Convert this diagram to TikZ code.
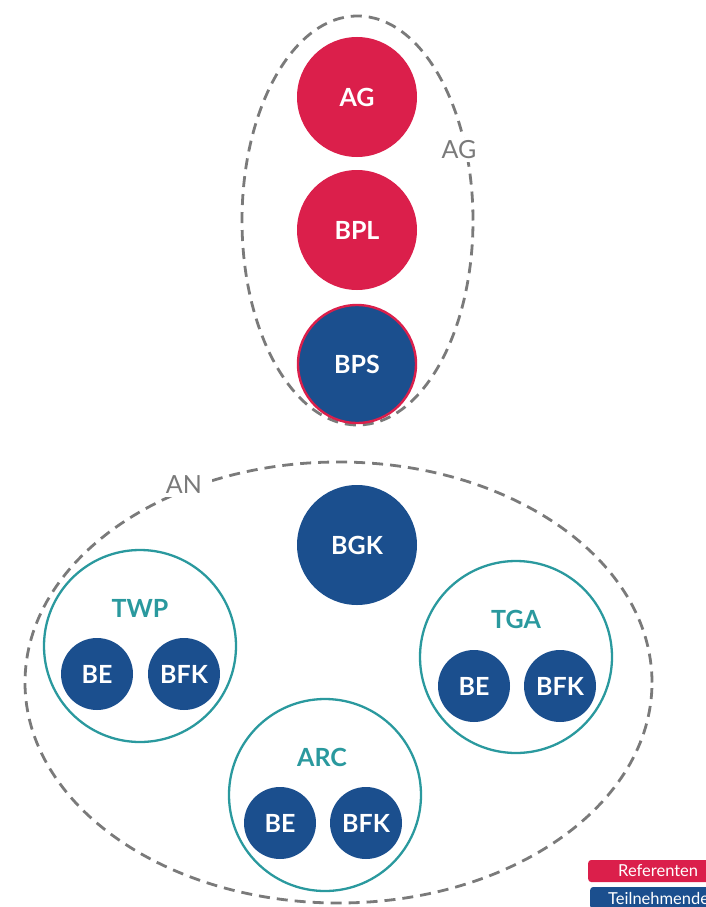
\documentclass[tikz,border=0pt]{standalone}
\usepackage{fontspec}
\setmainfont{Lato}
\usetikzlibrary{shapes.geometric}
\definecolor{refred}{HTML}{DB1F4B}
\definecolor{partblue}{HTML}{1B4F8E}
\definecolor{groupteal}{HTML}{2A999E}
\definecolor{zonegray}{HTML}{7A7A7A}
\tikzset{
  zone/.style={draw=zonegray, line width=2.8pt, dash pattern=on 11pt off 7pt, ellipse, inner sep=0pt},
  zonelabel/.style={fill=white, text=zonegray, font=\fontsize{25}{25}\selectfont, inner sep=3pt},
  bigdot/.style={circle, minimum size=120pt, inner sep=0pt, text=white, font=\bfseries\fontsize{25}{25}\selectfont},
  refdot/.style={bigdot, fill=refred},
  partdot/.style={bigdot, fill=partblue},
  smalldot/.style={circle, minimum size=72pt, inner sep=0pt, fill=partblue, text=white, font=\bfseries\fontsize{25}{25}\selectfont},
  group/.style={circle, draw=groupteal, line width=2.3pt, minimum size=192pt, inner sep=0pt},
  grouplabel/.style={text=groupteal, font=\bfseries\fontsize{25}{25}\selectfont},
  legendbox/.style={rounded corners=3pt, inner sep=0pt, anchor=west, minimum width=125pt, minimum height=22pt},
  legendtext/.style={text=white, font=\fontsize{16.5}{16.5}\selectfont, inner sep=0pt, anchor=west}
}
\begin{document}
\begin{tikzpicture}[x=1pt, y=-1pt]
\useasboundingbox (0,0) rectangle (706,907);
\clip (0,0) rectangle (706,907);

% dashed zones
\node[zone, minimum width=231pt, minimum height=409pt] (agzone) at (357.5,220.5) {};
\node[zone, minimum width=627pt, minimum height=441pt] (anzone) at (338.5,682.5) {};
\node[zonelabel] (aglabel) at (459,150) {AG};
\node[zonelabel, inner xsep=10pt] (anlabel) at (184,485) {AN};

% upper column
\node[refdot] (ag) at (357,97) {AG};
\node[refdot] (bpl) at (357,230) {BPL};
\node[partdot, draw=refred, line width=2.4pt, minimum size=118pt] (bps) at (357,364) {BPS};
\node[partdot] (bgk) at (357,545) {BGK};

% TWP group
\node[group] (twp) at (140,646) {};
\node[grouplabel] (twplabel) at (140,608) {TWP};
\node[smalldot] (twpbe) at (97,674) {BE};
\node[smalldot] (twpbfk) at (184,674) {BFK};

% TGA group
\node[group] (tga) at (516,657) {};
\node[grouplabel] (tgalabel) at (516,619) {TGA};
\node[smalldot] (tgabe) at (474,686) {BE};
\node[smalldot] (tgabfk) at (560,686) {BFK};

% ARC group
\node[group] (arc) at (325,795) {};
\node[grouplabel] (arclabel) at (322,757) {ARC};
\node[smalldot] (arcbe) at (280,823) {BE};
\node[smalldot] (arcbfk) at (366,823) {BFK};

% legend
\node[legendbox, fill=refred] (legref) at (588,871) {};
\node[legendtext] (legreftext) at (618,871) {Referenten};
\node[legendbox, fill=partblue] (legpart) at (590,898) {};
\node[legendtext] (legparttext) at (608,898) {Teilnehmende};
\end{tikzpicture}
\end{document}
